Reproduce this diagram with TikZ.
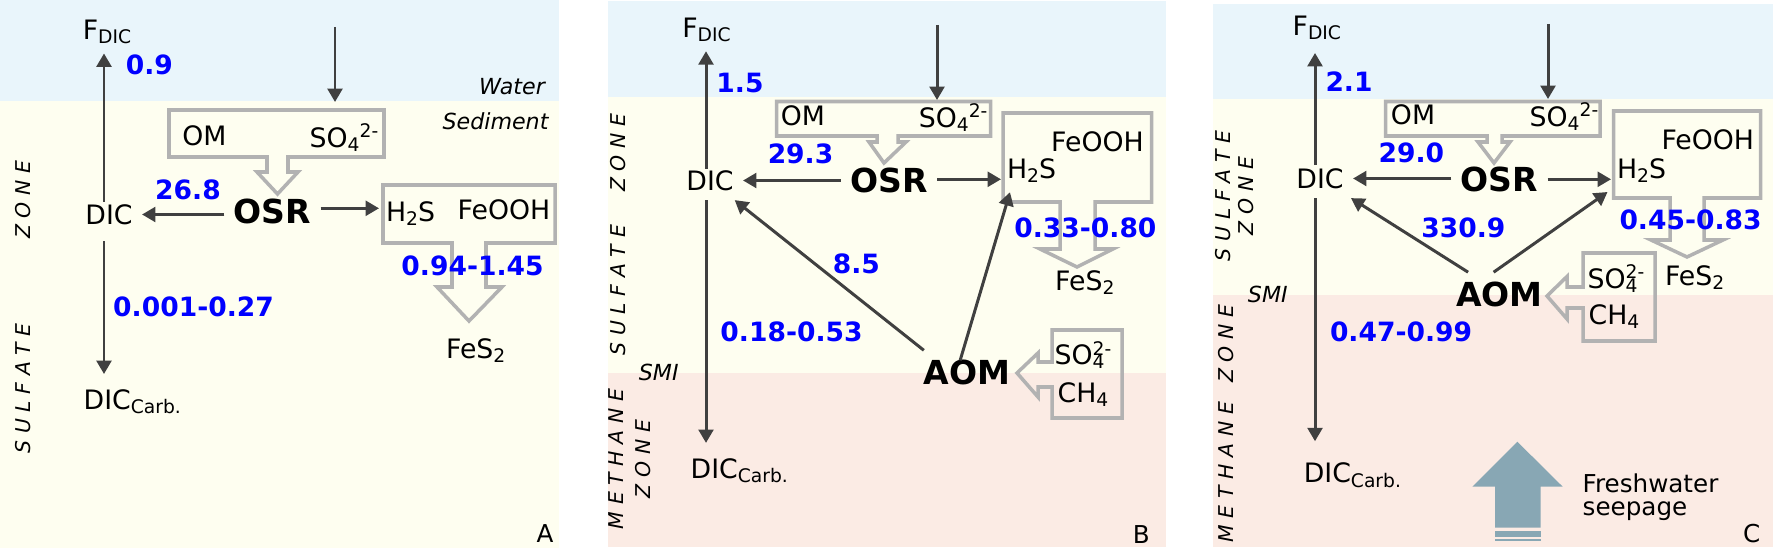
\documentclass[tikz,border=0pt]{standalone}
\usepackage{fontspec}
\setmainfont{DejaVu Sans}
\usetikzlibrary{arrows.meta}

\definecolor{waterblue}{RGB}{233,245,251}
\definecolor{sulfzone}{RGB}{254,254,240}
\definecolor{methzone}{RGB}{251,235,228}
\definecolor{fluxgray}{RGB}{64,64,64}
\definecolor{boxgray}{RGB}{178,178,178}
\definecolor{rateblue}{RGB}{0,0,255}
\definecolor{seepblue}{RGB}{136,167,180}

\setlength{\scriptspace}{0pt}
\newcommand{\lsp}{\hspace{1.9pt}}

\tikzset{
  lbl/.style={font=\fontsize{7.6}{9}\selectfont, inner sep=2.5pt},
  dcarb/.style={lbl, inner ysep=4.2pt},
  proc/.style={font=\fontsize{9.4}{11}\selectfont\bfseries, inner sep=2.5pt},
  rate/.style={font=\fontsize{7.55}{9}\selectfont\bfseries, text=rateblue, inner sep=0pt},
  layer/.style={font=\fontsize{6.3}{7}\selectfont\itshape, inner sep=0pt},
  zone/.style={font=\fontsize{5.8}{7}\selectfont\itshape, inner sep=0pt, rotate=90, align=center},
  tag/.style={font=\fontsize{7}{8}\selectfont, inner sep=0pt},
  flux/.style={draw=fluxgray, line width=0.85pt, -{Triangle[length=3.8pt,width=4.2pt]}},
  hollow/.style={draw=boxgray, line width=1pt}
}

\begin{document}
\begin{tikzpicture}[x=0.01cm, y=-0.01cm]
\useasboundingbox (0,0) rectangle (1773,549);

% ---- A
\fill[waterblue] (0,0) rectangle (559,101);
\fill[sulfzone] (0,101) rectangle (559,548);
\draw[hollow] (169,110) -- (384,110) -- (384,157) -- (288,157) -- (288,172) -- (298,172) -- (277.5,194)
  -- (257,172) -- (267,172) -- (267,157) -- (169,157) -- cycle;
\draw[hollow] (383,185) -- (555,185) -- (555,243) -- (486,243) -- (486,287) -- (502,287) -- (469,321)
  -- (437,287) -- (452,287) -- (452,243) -- (383,243) -- cycle;

\node[lbl] (fdicA) at (107,32) {F\textsubscript{DIC}};
\node[lbl] (dicA) at (109,214.5) {DIC};
\node[dcarb] (dcarbA) at (132.3,401.8) {DIC\textsubscript{Carb.}};
\node[proc] (osrA) at (272.5,211.8) {OSR};
\node[lbl] (omA) at (204.3,136.2) {OM};
\node[lbl] (so4A) at (344,138) {SO\textsubscript{4}\textsuperscript{2-}};
\node[lbl] (h2sA) at (410.5,213.5) {H\textsubscript{2}S};
\node[lbl] (feoohA) at (504,209.7) {FeOOH};
\node[lbl] (fes2A) at (475.7,350.2) {FeS\textsubscript{2}};
\node[rate] (r1A) at (149.3,64.8) {0.9};
\node[rate] (r2A) at (188,190.3) {26.8};
\node[rate] (r3A) at (472.5,266) {0.94-1.45};
\node[rate] (r4A) at (193.5,306.4) {0.001-0.27};
\node[layer] (waterA) at (512,87) {Water};
\node[layer] (sedA) at (495.5,121.6) {Sediment};
\node[zone] (zoneA) at (22.6,307) {S\lsp U\lsp L\lsp F\lsp A\lsp T\lsp E\hspace{24pt}Z\lsp O\lsp N\lsp E};
\node[tag] (tagA) at (545,534) {A};

\coordinate (axA) at (104,0);
\coordinate (topA) at (335,27);
\coordinate (botA) at (335,102);
\coordinate (inA) at (379,208.3);
\draw[flux] (topA) -- (botA);
\draw[flux, shorten <=-2pt] (dicA.north -| axA) -- (fdicA.south -| axA);
\draw[flux, shorten <=2pt] (dicA.south -| axA) -- (dcarbA.north -| axA);
\draw[flux] (osrA.west |- dicA) -- (dicA.east);
\draw[flux] (osrA.east |- inA) -- (inA);

% ---- B
\fill[waterblue] (608,1) rectangle (1166,97);
\fill[sulfzone] (608,97) rectangle (1166,373);
\fill[methzone] (608,373) rectangle (1166,547);
\draw[hollow] (776.5,101.5) -- (990.5,101.5) -- (990.5,136) -- (898,136) -- (898,142) -- (906,142) -- (884,163)
  -- (869,142) -- (877,142) -- (877,136) -- (776.5,136) -- cycle;
\draw[hollow] (1003,113) -- (1151.5,113) -- (1151.5,202) -- (1095,202) -- (1095,249) -- (1113,249) -- (1077,267)
  -- (1040,249) -- (1060,249) -- (1060,202) -- (1003,202) -- cycle;
\draw[hollow] (1052,330) -- (1122,330) -- (1122,418) -- (1052,418) -- (1052,387) -- (1038,387) -- (1038,397)
  -- (1017,373) -- (1038,353) -- (1038,362) -- (1052,362) -- cycle;

\node[lbl] (fdicB) at (706.5,29.8) {F\textsubscript{DIC}};
\node[lbl] (dicB) at (710,180.5) {DIC};
\node[dcarb] (dcarbB) at (739.3,470.7) {DIC\textsubscript{Carb.}};
\node[proc] (osrB) at (889,180.3) {OSR};
\node[proc] (aomB) at (967,372.3) {AOM};
\node[lbl] (omB) at (803,115.5) {OM};
\node[lbl] (so4B) at (953.2,118) {SO\textsubscript{4}\textsuperscript{2-}};
\node[lbl] (h2sB) at (1031.5,170.7) {H\textsubscript{2}S};
\node[lbl] (feoohB) at (1097.4,141.3) {FeOOH};
\node[lbl] (fes2B) at (1084.8,282.7) {FeS\textsubscript{2}};
\node[lbl, inner sep=0pt, anchor=west] (so4bB) at (1054,355) {SO\rlap{\textsuperscript{2-}}\textsubscript{4}};
\node[lbl] (ch4B) at (1083,394.4) {CH\textsubscript{4}};
\node[rate] (r1B) at (740,83) {1.5};
\node[rate] (r2B) at (800.5,153.7) {29.3};
\node[rate] (r3B) at (1085.4,227.6) {0.33-0.80};
\node[rate] (r4B) at (856.4,263.8) {8.5};
\node[rate] (r5B) at (791.5,331.4) {0.18-0.53};
\node[layer] (smiB) at (658.7,372.7) {SMI};
\node[zone] (sulfB) at (618,234.5) {S\lsp U\lsp L\lsp F\lsp A\lsp T\lsp E\hspace{9.4pt}Z\lsp O\lsp N\lsp E};
\node[zone] (methB) at (629.8,459) {M\lsp E\lsp T\lsp H\lsp A\lsp N\lsp E\\[0.5pt]Z\lsp O\lsp N\lsp E};
\node[tag] (tagB) at (1141.3,535) {B};

\coordinate (axB) at (706,0);
\coordinate (topB) at (937,25);
\coordinate (botB) at (937,100);
\coordinate (inB) at (1001,179.3);
\draw[flux] (topB) -- (botB);
\draw[flux, shorten <=-2.2pt] (dicB.north -| axB) -- (fdicB.south -| axB);
\draw[flux] (dicB.south -| axB) -- (dcarbB.north -| axB);
\draw[flux] (osrB.west |- dicB) -- (dicB.east);
\draw[flux] (osrB.east |- inB) -- (inB);
\draw[flux] (aomB.153) -- (dicB);
\draw[flux, shorten <=-3pt] (aomB.100) -- (h2sB.225);

% ---- C
\fill[waterblue] (1213,4) rectangle (1773,99);
\fill[sulfzone] (1213,99) rectangle (1773,295);
\fill[methzone] (1213,295) rectangle (1773,547);
\draw[hollow] (1385.5,101.5) -- (1600,101.5) -- (1600,136) -- (1502,136) -- (1502,142) -- (1510,142) -- (1494,163)
  -- (1478,142) -- (1487,142) -- (1487,136) -- (1385.5,136) -- cycle;
\draw[hollow] (1613.5,111) -- (1760.5,111) -- (1760.5,198) -- (1704,198) -- (1704,240) -- (1723,240) -- (1687,257)
  -- (1651,240) -- (1670,240) -- (1670,198) -- (1613.5,198) -- cycle;
\draw[hollow] (1583,253) -- (1655,253) -- (1655,341) -- (1583,341) -- (1583,308) -- (1567,308) -- (1567,319)
  -- (1547,296) -- (1567,276.5) -- (1567,287) -- (1583,287) -- cycle;
\fill[seepblue] (1495,527.7) -- (1495,486.7) -- (1472.3,486.7) -- (1517.3,441.7) -- (1562.7,486.7)
  -- (1540.7,486.7) -- (1540.7,527.7) -- cycle;
\fill[seepblue] (1495,530.7) rectangle (1540.7,536.7);
\fill[seepblue] (1495,538.7) rectangle (1540.7,541.3);

\node[lbl] (fdicC) at (1316.8,28) {F\textsubscript{DIC}};
\node[lbl] (dicC) at (1320,178.5) {DIC};
\node[dcarb] (dcarbC) at (1352.4,475) {DIC\textsubscript{Carb.}};
\node[proc] (osrC) at (1499.5,179) {OSR};
\node[proc] (aomC) at (1499.5,294.2) {AOM};
\node[lbl] (omC) at (1413,114.7) {OM};
\node[lbl] (so4C) at (1564,116.4) {SO\textsubscript{4}\textsuperscript{2-}};
\node[lbl] (h2sC) at (1641.5,170.5) {H\textsubscript{2}S};
\node[lbl] (feoohC) at (1707.8,139.7) {FeOOH};
\node[lbl] (fes2C) at (1694.6,277.5) {FeS\textsubscript{2}};
\node[lbl, inner sep=0pt, anchor=west] (so4bC) at (1587,278.7) {SO\rlap{\textsuperscript{2-}}\textsubscript{4}};
\node[lbl] (ch4C) at (1614,316.8) {CH\textsubscript{4}};
\node[rate] (r1C) at (1349,81.4) {2.1};
\node[rate] (r2C) at (1411.4,153.2) {29.0};
\node[rate] (r3C) at (1690.5,220.2) {0.45-0.83};
\node[rate] (r4C) at (1463.4,227.6) {330.9};
\node[rate] (r5C) at (1401,331.4) {0.47-0.99};
\node[layer] (smiC) at (1267.8,294.2) {SMI};
\node[zone] (sulfC) at (1234.5,196) {S\lsp U\lsp L\lsp F\lsp A\lsp T\lsp E\\[-0.5pt]Z\lsp O\lsp N\lsp E};
\node[zone] (methC) at (1226,423.5) {M\lsp E\lsp T\lsp H\lsp A\lsp N\lsp E\hspace{5.4pt}Z\lsp O\lsp N\lsp E};
\node[lbl, inner sep=0pt, anchor=west, align=left, font=\fontsize{7}{6.4}\selectfont] (seepC) at (1582,497.4) {Freshwater\\seepage};
\node[tag] (tagC) at (1751.7,533.8) {C};

\coordinate (axC) at (1315,0);
\coordinate (topC) at (1548,24);
\coordinate (botC) at (1548,99);
\coordinate (inC) at (1611,179.3);
\draw[flux] (topC) -- (botC);
\draw[flux, shorten <=-1.8pt, shorten >=1pt] (dicC.north -| axC) -- (fdicC.south -| axC);
\draw[flux, shorten >=1.7pt] (dicC.south -| axC) -- (dcarbC.north -| axC);
\draw[flux] (osrC.west |- dicC) -- (dicC.east);
\draw[flux] (osrC.east |- inC) -- (inC);
\draw[flux] (aomC.145) -- (dicC);
\draw[flux] (aomC.105) -- (h2sC.south west);
\end{tikzpicture}
\end{document}
